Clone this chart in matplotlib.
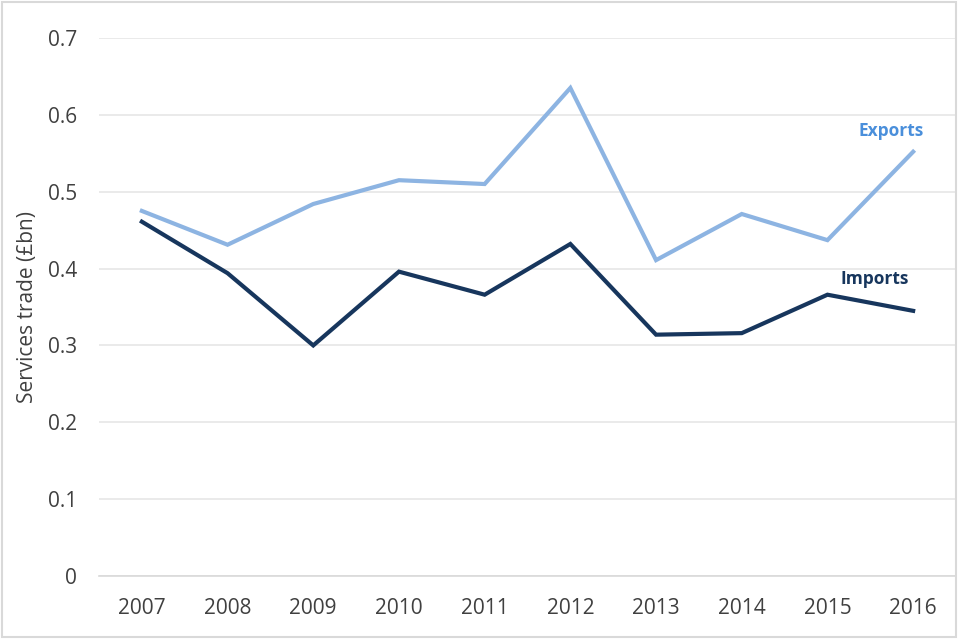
import matplotlib
matplotlib.use("Agg")
import matplotlib.pyplot as plt
from matplotlib.patches import Rectangle

years = ["2007", "2008", "2009", "2010", "2011", "2012", "2013", "2014", "2015", "2016"]
exports = [0.475, 0.431, 0.484, 0.515, 0.510, 0.635, 0.411, 0.471, 0.437, 0.552]
imports = [0.461, 0.394, 0.300, 0.396, 0.366, 0.432, 0.314, 0.316, 0.366, 0.345]
yticks = [0, 0.1, 0.2, 0.3, 0.4, 0.5, 0.6, 0.7]
ytick_labels = ["0", "0.1", "0.2", "0.3", "0.4", "0.5", "0.6", "0.7"]

plt.rcParams['font.family'] = ['Open Sans', 'DejaVu Sans']

fig = plt.figure(figsize=(9.6, 6.4), dpi=100)
ax = fig.add_axes([99/960, 1 - 576/640, (956 - 99)/960, (576 - 38)/640])

x = list(range(len(years)))
ax.plot(x, exports, color="#8DB4E2", lw=3.0, solid_joinstyle="miter", zorder=3)
ax.plot(x, imports, color="#17365D", lw=3.0, solid_joinstyle="miter", zorder=3)

ax.set_xlim(-0.5, len(years) - 0.5)
ax.set_ylim(0, 0.7)
ax.set_yticks(yticks)
ax.set_yticklabels(ytick_labels)
ax.set_xticks(x)
ax.set_xticklabels(years)
ax.grid(axis="y", color="#E6E6E6", lw=1.2)
ax.set_axisbelow(True)
for s in ["top", "right", "left"]:
    ax.spines[s].set_visible(False)
ax.spines["bottom"].set_color("#D9D9D9")
ax.spines["bottom"].set_linewidth(1.2)
ax.tick_params(axis="both", length=0, labelsize=15, labelcolor="#404040")
ax.tick_params(axis="y", pad=16)
ax.tick_params(axis="x", pad=16)

fig.text(28/960, 1 - 307/640, "Services trade (£bn)", rotation=90, fontsize=15,
         color="#404040", ha="center", va="center")

ax.text(8.74, 0.579, "Exports", color="#4A8FDB", fontsize=12.5, fontweight="bold", ha="center", va="center")
ax.text(8.555, 0.386, "Imports", color="#17365D", fontsize=12.5, fontweight="bold", ha="center", va="center")

fig.patches.append(Rectangle((2/960, 3/640), 954/960, 635/640, transform=fig.transFigure,
                             fill=False, edgecolor="#D9D9D9", lw=1.5))

fig.savefig("out.png", dpi=100)
